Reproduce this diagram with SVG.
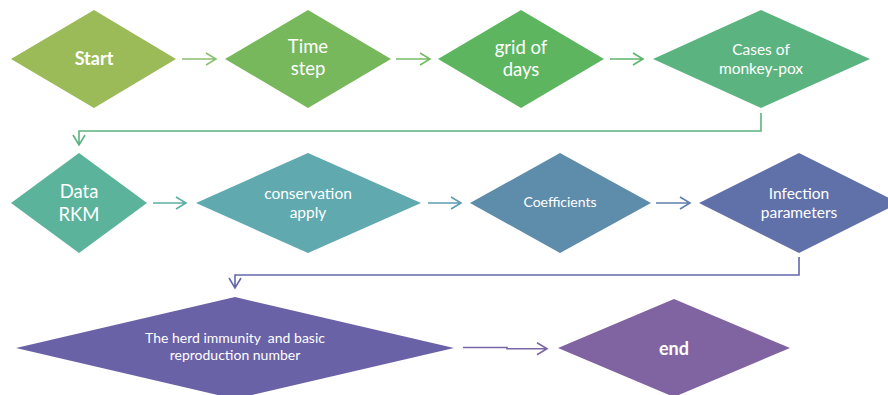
<svg xmlns="http://www.w3.org/2000/svg" width="888" height="395" viewBox="0 0 888 395">
<style>
.t{font-family:Lato,"Open Sans","Liberation Sans",sans-serif;fill:#fff;text-anchor:middle;white-space:pre}
.b{font-weight:bold}
.c{fill:none;stroke-width:1.6;stroke-linejoin:miter}
</style>
<rect width="888" height="395" fill="#fff"/>
<g id="connectors">
<path class="c" stroke="#8CC070" d="M182 59H216M206 53L216 59L206 65"/>
<path class="c" stroke="#78BA64" d="M396 59H430M420 53L430 59L420 65"/>
<path class="c" stroke="#5DB56A" d="M610 59H643M633 53L643 59L633 65"/>
<path class="c" stroke="#5BB380" d="M761 113V131H79V145M73 135L79 145L85 135"/>
<path class="c" stroke="#5DAFA3" d="M153 203H186M176 197L186 203L176 209"/>
<path class="c" stroke="#5F9CB0" d="M428 203H461M451 197L461 203L451 209"/>
<path class="c" stroke="#5F7FAC" d="M656 203H690M680 197L690 203L680 209"/>
<path class="c" stroke="#6468AA" d="M799 257V275H235V288M229 278L235 288L241 278"/>
<path class="c" stroke="#7A66A6" d="M463 347.5H507V348.8H547M537 342.8L547 348.8L537 354.8"/>
</g>
<g id="start"><polygon points="94,10 176,59 94,108 11,59" fill="#9BBB59"/><text class="t b" x="94" y="65" font-size="18">Start</text></g>
<g id="timestep"><polygon points="308,10 391,59 308,108 225,59" fill="#77B85C"/><text class="t" x="308" y="53" font-size="18.5">Time</text><text class="t" x="308" y="75" font-size="18.5">step</text></g>
<g id="grid"><polygon points="521,10 604,59 521,108 438,59" fill="#5DB65F"/><text class="t" x="521" y="54" font-size="18.5">grid of</text><text class="t" x="521" y="76" font-size="18.5">days</text></g>
<g id="cases"><polygon points="761,10 870,59 761,108 653,59" fill="#5BB380"/><text class="t" x="761" y="55" font-size="15.5">Cases of</text><text class="t" x="761" y="74" font-size="15.5">monkey-pox</text></g>
<g id="datarkm"><polygon points="79,153 147,203 79,253 11,203" fill="#5CB39B"/><text class="t" x="79" y="198" font-size="18.5">Data</text><text class="t" x="79" y="221" font-size="18.5">RKM</text></g>
<g id="conservation"><polygon points="308,153 421,203 308,253 196,203" fill="#60A9AF"/><text class="t" x="308" y="199" font-size="15.5">conservation</text><text class="t" x="308" y="218" font-size="15.5">apply</text></g>
<g id="coefficients"><polygon points="560,153 651,203 560,253 470,203" fill="#5E8CAB"/><text class="t" x="560" y="207" font-size="14">Coefficients</text></g>
<g id="infection"><polygon points="799,153 899,203 799,253 699,203" fill="#6071A9"/><text class="t" x="799" y="199" font-size="15.5">Infection</text><text class="t" x="799" y="218" font-size="15.5">parameters</text></g>
<g id="herd"><polygon points="235,297 454,348 235,399 16,348" fill="#6A62A6"/><text class="t" x="235" y="343" font-size="14" xml:space="preserve">The herd immunity  and basic</text><text class="t" x="235" y="360" font-size="14">reproduction number</text></g>
<g id="end"><polygon points="674,299 790,348 674,397 558,348" fill="#8064A2"/><text class="t b" x="674" y="355" font-size="18">end</text></g>
</svg>
